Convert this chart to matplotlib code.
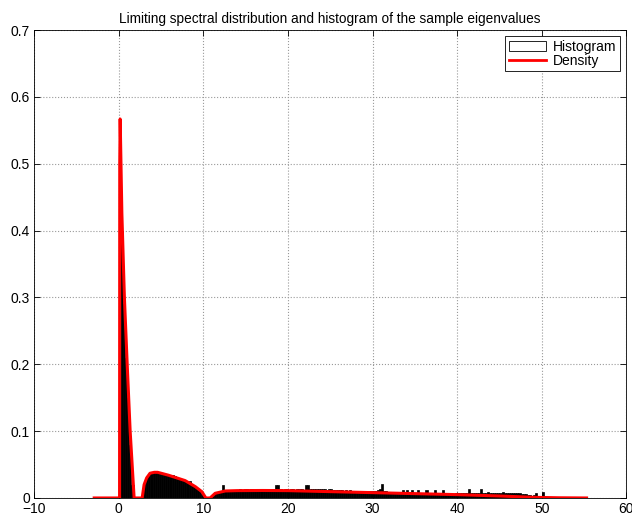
import matplotlib
matplotlib.use('Agg')
import matplotlib.pyplot as plt
from matplotlib.patches import Patch
from matplotlib.lines import Line2D
import numpy as np

plt.rcParams['font.family'] = ['Liberation Sans', 'DejaVu Sans']

# histogram bar heights, bins of width 0.25 starting at 0
bin_width = 0.25
hist_heights = [
    0.52, 0.40, 0.29, 0.21, 0.15, 0.08, 0.02, 0.0,          # 0-2
    0, 0, 0, 0.012, 0.026, 0.033, 0.036, 0.038,             # 2-4
    0.039, 0.040, 0.039, 0.039, 0.037, 0.037, 0.036, 0.035, # 4-6
    0.034, 0.035, 0.033, 0.031, 0.030, 0.029, 0.027, 0.025, # 6-8
    0.024, 0.026, 0.020, 0.018, 0.015, 0.013, 0.010, 0.006, # 8-10
    0.002, 0, 0.0, 0.003, 0.006, 0.007, 0.009, 0.009,       # 10-12
    0.010, 0.019, 0.010, 0.011, 0.011, 0.012, 0.012, 0.012, # 12-14
    0.012, 0.013, 0.012, 0.013, 0.013, 0.012, 0.013, 0.013, # 14-16
    0.013, 0.012, 0.013, 0.013, 0.012, 0.013, 0.013, 0.012, # 16-18
    0.013, 0.013, 0.020, 0.019, 0.013, 0.012, 0.013, 0.013, # 18-20
    0.012, 0.013, 0.013, 0.012, 0.013, 0.013, 0.013, 0.012, # 20-22
    0.020, 0.020, 0.014, 0.013, 0.013, 0.014, 0.013, 0.013, # 22-24
    0.013, 0.013, 0.012, 0.013, 0.013, 0.012, 0.012, 0.012, # 24-26
    0.012, 0.012, 0.011, 0.012, 0.011, 0.012, 0.011, 0.011, # 26-28
    0.011, 0.011, 0.010, 0.011, 0.010, 0.010, 0.010, 0.011, # 28-30
    0.010, 0.010, 0.012, 0.013, 0.021, 0.011, 0.010, 0.009, # 30-32
    0.009, 0.009, 0.008, 0.009, 0.008, 0.009, 0.012, 0.008, # 32-34
    0.012, 0.008, 0.012, 0.008, 0.007, 0.012, 0.007, 0.008, # 34-36
    0.007, 0.012, 0.007, 0.007, 0.007, 0.012, 0.007, 0.007, # 36-38
    0.006, 0.012, 0.006, 0.006, 0.006, 0.006, 0.006, 0.007, # 38-40
    0.007, 0.008, 0.007, 0.008, 0.007, 0.013, 0.008, 0.008, # 40-42
    0.007, 0.008, 0.007, 0.013, 0.008, 0.008, 0.009, 0.008, # 42-44
    0.008, 0.008, 0.007, 0.008, 0.008, 0.009, 0.008, 0.007, # 44-46
    0.007, 0.007, 0.008, 0.007, 0.007, 0.007, 0.006, 0.006, # 46-48
    0.006, 0.005, 0.004, 0.003, 0.004, 0.007, 0.002, 0.0,   # 48-50
    0.009,
]

# limiting spectral density
dens_x = [-2.9, 0.1, 0.12, 0.17, 0.37, 0.67, 1.0, 1.35, 1.82, 2.77, 3.0, 3.3,
          3.7, 4.2, 4.6, 5.9, 7.85, 9.05, 9.83, 10.3, 10.8, 11.4, 12.6, 14.0,
          17.0, 20.0, 25.0, 30.0, 35.0, 40.0, 45.0, 49.0, 52.0, 55.3]
dens_y = [0, 0, 0.5, 0.567, 0.426, 0.3, 0.2, 0.1, 0, 0, 0.02, 0.03,
          0.037, 0.0384, 0.0384, 0.034, 0.026, 0.017, 0.0094, 0, 0, 0.007, 0.0105, 0.011,
          0.0112, 0.011, 0.0095, 0.008, 0.0065, 0.005, 0.003, 0.001, 0.0003, 0]

fig = plt.figure(figsize=(6.32, 5.19), dpi=100)
ax = fig.add_axes([0.054, 0.0405, 0.937, 0.9015])

left_edges = np.arange(len(hist_heights)) * bin_width
ax.bar(left_edges, hist_heights, width=bin_width, align='edge',
       facecolor='black', edgecolor='black', linewidth=0.5, zorder=2)
ax.plot(dens_x, dens_y, color='red', linewidth=2.2, zorder=3)

ax.set_xlim(-10, 60)
ax.set_ylim(0, 0.7)
ax.set_xticks(np.arange(-10, 61, 10))
ax.set_yticks(np.arange(0, 0.71, 0.1))
ax.set_yticklabels(['0', '0.1', '0.2', '0.3', '0.4', '0.5', '0.6', '0.7'])
ax.grid(True, linestyle=':', color='#999999', linewidth=0.8)
ax.set_axisbelow(True)
ax.tick_params(direction='in', length=4, width=0.6, top=True, right=True,
               labelsize=10, pad=3)
for s in ax.spines.values():
    s.set_linewidth(0.6)

ax.set_title('Limiting spectral distribution and histogram of the sample eigenvalues',
             fontsize=9.8, pad=5)

handles = [Patch(facecolor='white', edgecolor='black', linewidth=0.6),
           Line2D([0], [0], color='red', linewidth=2)]
leg = ax.legend(handles, ['Histogram', 'Density'], loc='upper right',
                fontsize=10, fancybox=False, framealpha=1, edgecolor='black',
                borderaxespad=0.45, handlelength=2.7, labelspacing=0.0,
                borderpad=0.25, handletextpad=0.5)
leg.get_frame().set_linewidth(0.6)

plt.savefig('out.png', dpi=100)
plt.close()
